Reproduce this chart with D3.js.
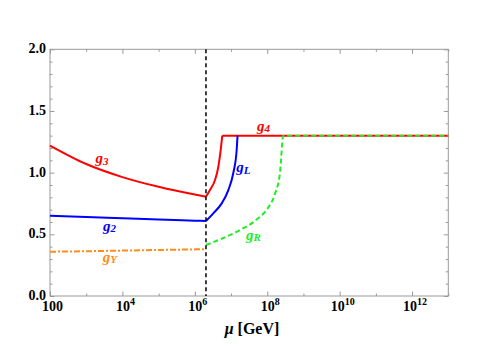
<!DOCTYPE html>
<html><head><meta charset="utf-8">
<script src="https://cdn.jsdelivr.net/npm/d3@7"></script>
<style>body{margin:0;background:#fff}</style>
</head><body>
<svg id="c" width="498" height="346"></svg>
<script>
// ---- data ----
const muBreak = 2.03e6;
const muLow  = [1e2, 1e3, 1e4, 1e5, 1e6, 2.03e6];
const g3Low  = [1.220, 1.070, 0.964, 0.885, 0.822, 0.805];
const g2Low  = [0.651, 0.640, 0.630, 0.620, 0.611, 0.608];
const gYLow  = [0.359, 0.363, 0.368, 0.373, 0.378, 0.380];

const muG3High = [2.03e6, 2.62e6, 3.61e6, 4.46e6, 5.18e6, 5.73e6];
const g3High   = [0.805, 0.859, 0.940, 1.048, 1.184, 1.300];
const muG4 = [5.73e6, 1e13];
const g4   = [1.300, 1.300];

const muGL = [2.03e6, 3.24e6, 5.52e6, 8.41e6, 1.15e7, 1.43e7, 1.51e7];
const gL   = [0.608, 0.670, 0.751, 0.859, 0.995, 1.184, 1.300];

const muGR = [2.03e6, 6.11e6, 1.77e7, 5.11e7, 9.64e7, 1.64e8, 2.25e8, 2.77e8, 1e13];
const gR   = [0.413, 0.470, 0.535, 0.620, 0.700, 0.830, 1.000, 1.300, 1.300];

const xMajor = [1e2, 1e4, 1e6, 1e8, 1e10, 1e12];
const xMajorLabels = [["100",""],["10","4"],["10","6"],["10","8"],["10","10"],["10","12"]];
const xMinor = [1e3, 1e5, 1e7, 1e9, 1e11, 1e13];
const yMajor = [0, 0.5, 1.0, 1.5, 2.0];
const yMajorLabels = ["0.0","0.5","1.0","1.5","2.0"];
const yMinor = [0.1,0.2,0.3,0.4,0.6,0.7,0.8,0.9,1.1,1.2,1.3,1.4,1.6,1.7,1.8,1.9];

const curveLabels = [
  {g:"g", s:"3", x:2.73e3, y:1.078, c:"#ff0000"},
  {g:"g", s:"2", x:4.4e3,  y:0.527, c:"#0000ff"},
  {g:"g", s:"Y", x:4.5e3,  y:0.276, c:"#ff8c1a"},
  {g:"g", s:"L", x:2.2e7,  y:1.005, c:"#0000ff"},
  {g:"g", s:"4", x:7.87e7, y:1.338, c:"#ff0000"},
  {g:"g", s:"R", x:4.17e7, y:0.454, c:"#22ee22"}
];

// ---- layout ----
const L = 50, R = 448.3, T = 49.3, B = 296;
const svg = d3.select("#c");
const x = d3.scaleLog().domain([1e2, 1e13]).range([L, R]);
const y = d3.scaleLinear().domain([0, 2]).range([B, T]);
const frame = "#999999";

// frame
svg.append("rect").attr("x", L).attr("y", T).attr("width", R-L).attr("height", B-T)
  .attr("fill","none").attr("stroke", frame).attr("stroke-width", 1);

function ticks(axisFn, scale, vals, len, tr) {
  const g = svg.append("g").attr("transform", tr)
    .call(axisFn(scale).tickValues(vals).tickSize(-len).tickFormat(""));
  g.select(".domain").remove();
  g.selectAll(".tick line").attr("stroke", frame);
}
ticks(d3.axisBottom, x, xMajor, 4.5, `translate(0,${B})`);
ticks(d3.axisBottom, x, xMinor, 2.5, `translate(0,${B})`);
ticks(d3.axisTop, x, xMajor, 4.5, `translate(0,${T})`);
ticks(d3.axisTop, x, xMinor, 2.5, `translate(0,${T})`);
ticks(d3.axisLeft, y, yMajor, 4.5, `translate(${L},0)`);
ticks(d3.axisLeft, y, yMinor, 2.5, `translate(${L},0)`);
ticks(d3.axisRight, y, yMajor, 4.5, `translate(${R},0)`);
ticks(d3.axisRight, y, yMinor, 2.5, `translate(${R},0)`);

const font = "'Liberation Serif','Times New Roman',serif";
// x tick labels
xMajor.forEach((v,i) => {
  const t = svg.append("text").attr("x", x(v) + (i===0?2.5:3)).attr("y", 311)
    .attr("text-anchor","middle").attr("font-family", font).attr("font-weight","bold")
    .attr("font-size", 14).attr("fill","#000");
  t.append("tspan").text(xMajorLabels[i][0]);
  if (xMajorLabels[i][1]) t.append("tspan").attr("dy", -6).attr("font-size", 10).text(xMajorLabels[i][1]);
});
// y tick labels
yMajor.forEach((v,i) => {
  svg.append("text").attr("x", 46).attr("y", y(v) + 4)
    .attr("text-anchor","end").attr("font-family", font).attr("font-weight","bold")
    .attr("font-size", 14).attr("fill","#000").text(yMajorLabels[i]);
});
// axis title
const xt = svg.append("text").attr("x", 252).attr("y", 334).attr("text-anchor","middle")
  .attr("font-family", font).attr("font-weight","bold").attr("font-size", 16).attr("fill","#000");
xt.append("tspan").attr("font-style","italic").text("μ");
xt.append("tspan").text(" [GeV]");

// curves
const line = d3.line().x(d => x(d[0])).y(d => y(d[1])).curve(d3.curveMonotoneX);
const zip = (a,b) => a.map((v,i)=>[v,b[i]]);
function draw(mu, g, color, dash) {
  svg.append("path").datum(zip(mu,g)).attr("d", line).attr("fill","none")
    .attr("stroke", color).attr("stroke-width", 2).attr("stroke-dasharray", dash || null);
}
draw(muLow, g3Low, "#ff0000");
draw(muG3High, g3High, "#ff0000");
draw(muG4, g4, "#ff0000");
draw(muLow, g2Low, "#0000ff");
draw(muGL, gL, "#0000ff");
draw(muLow, gYLow, "#ff8c1a", "6,2,2,2");
draw(muGR, gR, "#22ee22", "5,3");

// threshold line
svg.append("line").attr("x1", x(muBreak)).attr("x2", x(muBreak)).attr("y1", T).attr("y2", B)
  .attr("stroke","#000").attr("stroke-width", 1.5).attr("stroke-dasharray","4,3");

// curve labels
curveLabels.forEach(d => {
  const t = svg.append("text").attr("x", x(d.x)).attr("y", y(d.y))
    .attr("font-family", font).attr("font-weight","bold").attr("font-style","italic")
    .attr("font-size", 15).attr("fill", d.c).attr("text-anchor","middle");
  t.append("tspan").text(d.g);
  t.append("tspan").attr("dy", 1.5).attr("font-size", 11).text(d.s);
});
</script>
</body></html>
